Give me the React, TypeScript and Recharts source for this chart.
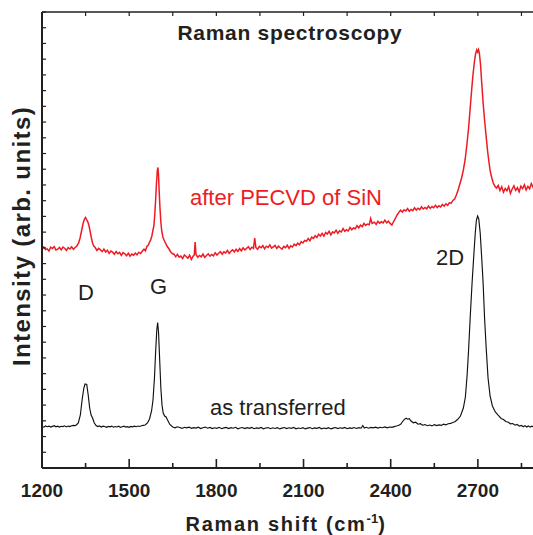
import React from 'react';
import { LineChart, Line, XAxis, YAxis } from 'recharts';

// [Raman shift (cm-1), intensity (arb. units)]
const AS_TRANSFERRED: [number, number][] = [
  [1200, 41.5], [1206, 40.8], [1212, 42], [1218, 41.3], [1224, 41.9], [1230, 40.9], [1236, 41.6], [1242, 42.3],
  [1248, 41.2], [1254, 41.8], [1260, 40.9], [1266, 41.7], [1272, 41.4], [1278, 42.2], [1284, 41.1], [1290, 41.9],
  [1296, 41.4], [1302, 42.3], [1308, 42.6], [1314, 42.4], [1318, 43], [1325, 45], [1332, 53], [1338, 68],
  [1344, 80], [1348, 84], [1354, 83.5], [1359, 73], [1364, 60], [1369, 53], [1374, 50], [1380, 45],
  [1386, 42.5], [1392, 41.4], [1398, 42.1], [1404, 41], [1410, 41.8], [1416, 41.5], [1422, 40.7], [1428, 41.6],
  [1434, 41.2], [1440, 41.9], [1446, 40.8], [1452, 41.5], [1458, 41], [1464, 41.8], [1470, 40.6], [1476, 41.3],
  [1482, 41.9], [1488, 40.9], [1494, 41.4], [1500, 40.7], [1506, 41.6], [1512, 41.1], [1518, 41.8], [1524, 41.3],
  [1530, 42], [1536, 41.5], [1542, 42.2], [1548, 42.6], [1555, 43], [1563, 45], [1570, 49], [1577, 57],
  [1582, 68], [1587, 90], [1591, 116], [1595, 138], [1598, 145.5], [1601, 136], [1605, 108], [1609, 80],
  [1613, 63], [1617, 55], [1622, 52], [1627, 51], [1632, 48], [1640, 43.5], [1650, 41], [1658, 40.2],
  [1666, 41.2], [1674, 40.5], [1682, 39.6], [1690, 40.7], [1698, 40.1], [1706, 40.9], [1714, 39.7], [1722, 40.4],
  [1730, 39.9], [1738, 40.8], [1746, 39.5], [1754, 40.3], [1762, 40.9], [1770, 39.8], [1778, 40.6], [1786, 39.4],
  [1794, 40.2], [1802, 39.7], [1810, 40.7], [1818, 39.3], [1826, 40.1], [1834, 40.6], [1842, 39.5], [1850, 40.4],
  [1858, 39.8], [1866, 40.7], [1874, 39.2], [1882, 40], [1890, 40.5], [1898, 39.4], [1906, 40.3], [1914, 39.6],
  [1922, 40.6], [1930, 39.3], [1938, 40.1], [1946, 39.7], [1954, 40.5], [1962, 39.2], [1970, 40], [1978, 40.4],
  [1986, 39.3], [1994, 40.2], [2002, 39.5], [2010, 40.4], [2018, 39.1], [2026, 39.9], [2034, 40.5], [2042, 39.4],
  [2050, 40.2], [2058, 39.6], [2066, 40.5], [2074, 39.2], [2082, 40], [2090, 39.5], [2098, 40.3], [2106, 39.1],
  [2114, 39.9], [2122, 40.4], [2130, 39.3], [2138, 40.1], [2146, 39.6], [2154, 40.5], [2162, 39.2], [2170, 40],
  [2178, 39.4], [2186, 40.3], [2194, 39.1], [2202, 39.9], [2210, 40.5], [2218, 39.4], [2226, 40.2], [2234, 39.7],
  [2242, 40.6], [2250, 39.3], [2258, 40.1], [2266, 39.6], [2274, 40.5], [2282, 39.5], [2290, 40.3], [2298, 39.8],
  [2304, 42.5], [2309, 40], [2316, 40.7], [2324, 39.8], [2332, 40.6], [2340, 40.1], [2348, 40.9], [2356, 39.9],
  [2364, 40.7], [2372, 40.3], [2380, 41.1], [2388, 40.2], [2396, 41], [2404, 40.6], [2412, 41.4], [2420, 42],
  [2428, 42.8], [2435, 44], [2441, 46.5], [2447, 48.6], [2453, 49.8], [2458, 48.8], [2464, 49.3], [2470, 47],
  [2478, 45.2], [2486, 45.8], [2494, 43.8], [2502, 44.3], [2510, 42.8], [2518, 43.4], [2526, 42.3], [2534, 43],
  [2542, 42.1], [2550, 43.4], [2558, 42.4], [2566, 43.1], [2574, 42.6], [2582, 43.8], [2590, 43.2], [2598, 44.2],
  [2606, 44.6], [2614, 45.5], [2622, 46.5], [2630, 48.5], [2640, 52], [2650, 60], [2657, 71], [2663, 93],
  [2668, 118], [2674, 153], [2680, 185], [2686, 213], [2691, 235], [2695, 248], [2699, 252], [2703, 249],
  [2708, 235], [2713, 211], [2718, 185], [2723, 150], [2729, 118], [2735, 90], [2742, 72], [2750, 62],
  [2760, 56], [2766, 54.2], [2772, 52], [2780, 49.5], [2788, 48.5], [2796, 46.5], [2805, 45.8], [2812, 44.2],
  [2820, 44.5], [2828, 42.8], [2835, 43.5], [2843, 41.9], [2850, 42.6], [2856, 41.2], [2862, 42.4], [2868, 41],
  [2874, 42.1], [2880, 40.9], [2886, 41.8], [2892, 41.2], [2900, 41.6],
];

const AFTER_PECVD: [number, number][] = [
  [1200, 219], [1206, 221], [1212, 218.5], [1218, 219.2], [1224, 217], [1230, 220.8], [1236, 219.5], [1242, 221.5],
  [1248, 218], [1254, 218.8], [1260, 220.6], [1266, 218.2], [1272, 221], [1278, 219.8], [1284, 217.6], [1290, 220.4],
  [1296, 219], [1302, 221.3], [1308, 218.7], [1314, 220.5], [1320, 222], [1326, 225], [1331, 230], [1336, 237],
  [1341, 244], [1346, 249], [1350, 250.5], [1354, 248], [1358, 246], [1362, 242], [1366, 236], [1370, 230],
  [1374, 225], [1378, 222], [1383, 220.5], [1389, 217.5], [1395, 219.6], [1401, 218.2], [1407, 216.4], [1413, 218.9],
  [1419, 216], [1425, 217.8], [1431, 214.6], [1437, 216.9], [1443, 215.8], [1449, 213.8], [1455, 216.5], [1461, 214.2],
  [1467, 215.6], [1473, 212.6], [1479, 215.4], [1485, 214.2], [1491, 212.2], [1497, 214.8], [1503, 211.8], [1509, 213.9],
  [1515, 212.8], [1521, 214.9], [1527, 213.2], [1533, 215.8], [1539, 214.5], [1545, 216.8], [1551, 218.8], [1556, 217.2],
  [1561, 221.5], [1566, 223], [1570, 226], [1574, 228], [1578, 232], [1582, 238], [1585, 242], [1588, 253],
  [1591, 268], [1594, 285], [1597, 298], [1599, 300.5], [1601, 293], [1603, 278], [1606, 260], [1609, 246],
  [1612, 237], [1616, 231], [1620, 228], [1625, 225], [1630, 222], [1636, 219.5], [1642, 216.5], [1648, 214.5],
  [1654, 213.8], [1660, 211.2], [1666, 213.6], [1672, 210.8], [1678, 212], [1684, 209.4], [1690, 213], [1696, 211.5],
  [1702, 209.8], [1708, 212.8], [1714, 208.6], [1720, 211.8], [1724, 213], [1727, 226], [1730, 213.5], [1736, 210.8],
  [1742, 212.6], [1748, 211.2], [1754, 213.9], [1760, 210.6], [1766, 212.4], [1772, 214.2], [1778, 211.8], [1784, 213.6],
  [1790, 212.2], [1796, 215.2], [1802, 213], [1808, 214.8], [1814, 216.4], [1820, 213.8], [1826, 216.2], [1832, 215],
  [1838, 217.6], [1844, 214.6], [1850, 216.8], [1856, 218.2], [1862, 216], [1868, 218.8], [1874, 216.6], [1880, 219.4],
  [1886, 217.2], [1892, 220.2], [1898, 218], [1904, 219.6], [1910, 221.4], [1916, 218.6], [1922, 220.8], [1928, 219.6],
  [1932, 230], [1936, 220.5], [1942, 218.8], [1948, 221.6], [1954, 220.2], [1960, 222.4], [1966, 219.2], [1972, 221.8],
  [1978, 220.6], [1984, 223], [1990, 219.8], [1996, 221.2], [2002, 222.6], [2008, 219.6], [2014, 221.8], [2020, 220.2],
  [2026, 218.8], [2032, 221.6], [2038, 220.4], [2044, 222.8], [2050, 219.6], [2056, 222.2], [2062, 221], [2068, 223.8],
  [2074, 222.4], [2080, 224.8], [2086, 223.2], [2092, 226.4], [2098, 225], [2104, 227.6], [2110, 226.8], [2116, 229.4],
  [2122, 227.2], [2128, 230.8], [2134, 229.6], [2140, 232.2], [2146, 230.4], [2152, 233.8], [2158, 232], [2164, 234.6],
  [2170, 231.8], [2176, 235.6], [2182, 234], [2188, 236.8], [2194, 233.2], [2200, 236.2], [2206, 235], [2212, 237.8],
  [2218, 234.6], [2224, 237.2], [2230, 236], [2236, 239.4], [2242, 236.6], [2248, 238.2], [2254, 237], [2260, 240.6],
  [2266, 238.2], [2272, 240], [2278, 239.2], [2284, 242.4], [2290, 240], [2296, 242.8], [2302, 241.4], [2308, 244.6],
  [2314, 242.6], [2320, 244], [2326, 243.2], [2331, 249.5], [2336, 244.5], [2344, 245.8], [2350, 243.6], [2356, 246.8],
  [2362, 244.8], [2368, 246.2], [2374, 245], [2380, 247.8], [2386, 245.2], [2392, 246.8], [2398, 244.6], [2404, 243],
  [2410, 246.5], [2416, 249.5], [2422, 253], [2428, 255.6], [2434, 257.8], [2440, 256], [2446, 258.2], [2452, 257],
  [2458, 259.4], [2464, 256.8], [2470, 258.6], [2476, 257.4], [2482, 260.2], [2488, 258], [2494, 259.8], [2500, 258.4],
  [2506, 261.2], [2512, 259], [2518, 260.6], [2524, 259.2], [2530, 262], [2536, 259.6], [2542, 261.4], [2548, 260.2],
  [2554, 262.8], [2560, 260.4], [2566, 262.2], [2572, 261], [2578, 263.6], [2584, 261.8], [2590, 264.2], [2596, 262.6],
  [2602, 265.4], [2608, 264.6], [2614, 267.6], [2620, 269], [2626, 273], [2632, 278], [2638, 284], [2644, 290],
  [2650, 298], [2656, 308], [2662, 323], [2668, 340], [2673, 358], [2678, 376], [2683, 393], [2688, 406],
  [2692, 414], [2696, 418], [2699, 416], [2702, 418.5], [2705, 415], [2709, 404], [2713, 386], [2718, 365],
  [2723, 348], [2728, 333], [2733, 318], [2738, 306], [2743, 296], [2748, 290], [2753, 285], [2758, 282],
  [2764, 280], [2770, 282.5], [2776, 277.4], [2782, 281.2], [2788, 275.8], [2794, 279.6], [2800, 277.2], [2806, 281.4],
  [2812, 274.6], [2818, 279], [2824, 282.2], [2830, 277.6], [2836, 280.4], [2842, 276.2], [2848, 281.8], [2854, 279.4],
  [2860, 283.2], [2866, 278], [2872, 281.6], [2878, 279.2], [2884, 284.4], [2890, 280.6], [2896, 283.8], [2900, 282],
];

const X_TICKS = [1200, 1350, 1500, 1650, 1800, 1950, 2100, 2250, 2400, 2550, 2700, 2850];
const X_LABELED = [1200, 1500, 1800, 2100, 2400, 2700];
const Y_MAX = 456;
const Y_TICK_COUNT = 29;
const Y_TICKS = Array.from({ length: Y_TICK_COUNT + 1 }, (_, i) => (i * Y_MAX) / Y_TICK_COUNT);

const INK = '#231f20';
const RED = '#ed1c24';
const FONT = '"Liberation Sans", Arial, Helvetica, sans-serif';

const toPoints = (rows: [number, number][]) => rows.map(([x, y]) => ({ x, y }));

const BottomTick = (props: any) => {
  const { x, y, payload } = props;
  const major = X_LABELED.includes(payload.value);
  return (
    <g>
      <line x1={x} x2={x} y1={y} y2={y - (major ? 9 : 5)} stroke={INK} strokeWidth={1.6} />
      {major && (
        <text x={x} y={y + 29} textAnchor="middle" fontFamily={FONT} fontWeight="bold" fontSize={19} fill={INK}>
          {payload.value}
        </text>
      )}
    </g>
  );
};

const TopTick = (props: any) => {
  const { x, y } = props;
  return <line x1={x} x2={x} y1={y} y2={y + 4} stroke={INK} strokeWidth={1.2} />;
};

const LeftTick = (props: any) => {
  const { x, y } = props;
  return <line x1={x} x2={x + 4} y1={y} y2={y} stroke={INK} strokeWidth={1.2} />;
};

export default function App() {
  const black = toPoints(AS_TRANSFERRED);
  const red = toPoints(AFTER_PECVD);
  return (
    <div style={{ position: 'absolute', left: 0, top: 0, width: 533, height: 535, overflow: 'hidden', background: '#fff' }}>
      <LineChart width={536} height={535} margin={{ top: 11, right: 0, left: 41, bottom: 0 }}>
        <XAxis
          xAxisId="bottom"
          type="number"
          dataKey="x"
          domain={[1200, 2900]}
          allowDataOverflow
          ticks={X_TICKS}
          interval={0}
          height={67}
          tickSize={0}
          tickMargin={0}
          tickLine={false}
          tick={<BottomTick />}
          axisLine={{ stroke: INK, strokeWidth: 2 }}
        />
        <XAxis
          xAxisId="top"
          orientation="top"
          type="number"
          dataKey="x"
          domain={[1200, 2900]}
          allowDataOverflow
          ticks={X_TICKS}
          interval={0}
          height={1}
          tickSize={0}
          tickMargin={0}
          tickLine={false}
          tick={<TopTick />}
          axisLine={{ stroke: INK, strokeWidth: 1.6 }}
        />
        <YAxis
          type="number"
          domain={[0, Y_MAX]}
          allowDataOverflow
          ticks={Y_TICKS}
          interval={0}
          width={1}
          tickSize={0}
          tickMargin={0}
          tickLine={false}
          tick={<LeftTick />}
          axisLine={{ stroke: INK, strokeWidth: 2 }}
        />
        <Line
          xAxisId="bottom"
          data={black}
          dataKey="y"
          type="linear"
          stroke="#111"
          strokeWidth={1.15}
          dot={false}
          isAnimationActive={false}
        />
        <Line
          xAxisId="bottom"
          data={red}
          dataKey="y"
          type="linear"
          stroke={RED}
          strokeWidth={1.5}
          dot={false}
          isAnimationActive={false}
        />
      </LineChart>
      <svg width={533} height={535} style={{ position: 'absolute', left: 0, top: 0, pointerEvents: 'none' }}>
        <g fontFamily={FONT} fill={INK}>
          <text x={290} y={40} textAnchor="middle" fontWeight="bold" fontSize={21} letterSpacing={0.7}>
            Raman spectroscopy
          </text>
          <text x={190} y={205} fontSize={22} fill={RED}>after PECVD of SiN</text>
          <text x={210} y={415} fontSize={22}>as transferred</text>
          <text x={78} y={300} fontSize={22}>D</text>
          <text x={150} y={294} fontSize={22}>G</text>
          <text x={436} y={265} fontSize={22}>2D</text>
          <text x={286} y={531} textAnchor="middle" fontWeight="bold" fontSize={20} letterSpacing={1.7}>
            Raman shift (cm<tspan fontSize={13} dy={-8} letterSpacing={0}>-1</tspan><tspan dy={8}>)</tspan>
          </text>
          <text transform="translate(30, 236) rotate(-90)" textAnchor="middle" fontWeight="bold" fontSize={24} letterSpacing={1.4}>
            Intensity (arb. units)
          </text>
        </g>
      </svg>
    </div>
  );
}
